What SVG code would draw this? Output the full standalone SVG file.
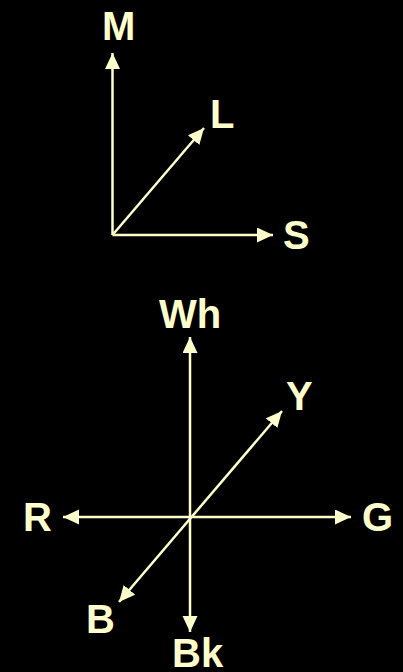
<svg xmlns="http://www.w3.org/2000/svg" width="403" height="672" viewBox="0 0 403 672">
<style>
.ax{stroke:#FFFFCC;stroke-width:2.5;fill:none}
.lb{font-family:"Liberation Sans",Arial,sans-serif;font-weight:bold;font-size:40px;fill:#FFFFCC}
</style>
<defs>
<marker id="ah" markerUnits="userSpaceOnUse" markerWidth="18" markerHeight="16" refX="16" refY="7.5" orient="auto-start-reverse" viewBox="0 0 18 16">
<polygon points="0,0 16,7.5 0,15" fill="#FFFFCC"/>
</marker>
</defs>
<rect width="403" height="672" fill="#000"/>
<g id="connectors">
<line class="ax" x1="112.5" y1="235" x2="112.5" y2="53" marker-end="url(#ah)"/>
<line class="ax" x1="112.5" y1="235" x2="273" y2="235" marker-end="url(#ah)"/>
<line class="ax" x1="112.5" y1="235" x2="204" y2="128" marker-end="url(#ah)"/>
<line class="ax" x1="190" y1="337" x2="190" y2="632" marker-start="url(#ah)" marker-end="url(#ah)"/>
<line class="ax" x1="63" y1="517" x2="351" y2="517" marker-start="url(#ah)" marker-end="url(#ah)"/>
<line class="ax" x1="282" y1="411" x2="119" y2="602" marker-start="url(#ah)" marker-end="url(#ah)"/>
</g>
<g id="M"><text class="lb" x="102" y="40">M</text></g>
<g id="L"><text class="lb" x="210" y="128">L</text></g>
<g id="S"><text class="lb" x="283" y="249">S</text></g>
<g id="Wh"><text class="lb" x="190" y="328" text-anchor="middle">Wh</text></g>
<g id="Y"><text class="lb" x="286" y="410">Y</text></g>
<g id="R"><text class="lb" x="23" y="531">R</text></g>
<g id="G"><text class="lb" x="362" y="531">G</text></g>
<g id="B"><text class="lb" x="86" y="633">B</text></g>
<g id="Bk"><text class="lb" x="172" y="667">Bk</text></g>
</svg>
